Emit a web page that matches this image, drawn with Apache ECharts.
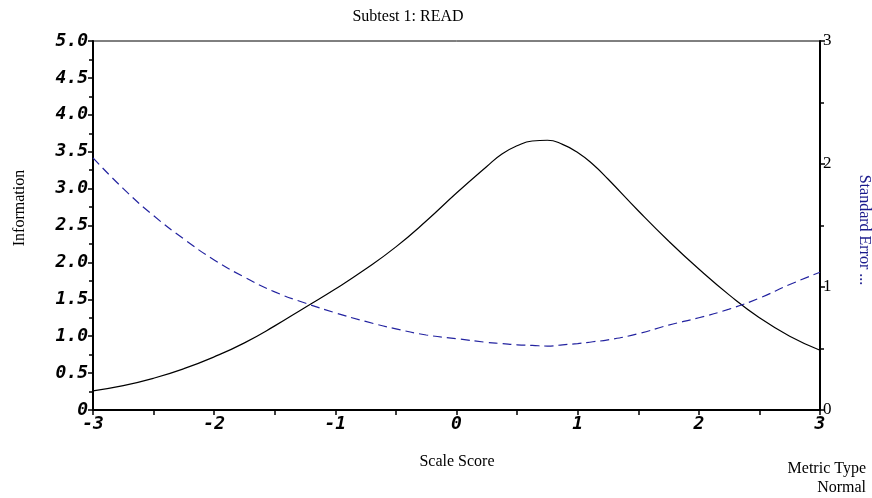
<!DOCTYPE html>
<html>
<head>
<meta charset="utf-8">
<script src="https://cdn.jsdelivr.net/npm/echarts@6/dist/echarts.min.js"></script>
<style>html,body{margin:0;padding:0;background:#fff}#c{width:872px;height:498px}</style>
</head>
<body>
<div id="c"></div>
<script>
const scaleScores = [-3.0,-2.75,-2.5,-2.25,-2.0,-1.75,-1.5,-1.25,-1.0,-0.75,-0.5,-0.25,0.0,0.25,0.375,0.5,0.625,0.75,0.875,1.0,1.125,1.25,1.5,1.75,2.0,2.25,2.5,2.75,3.0];
const information = [0.26,0.33,0.43,0.56,0.72,0.91,1.14,1.39,1.64,1.91,2.21,2.56,2.94,3.30,3.47,3.58,3.645,3.655,3.60,3.49,3.33,3.13,2.70,2.29,1.91,1.56,1.25,1.00,0.81];
const standardError = [2.05,1.80,1.58,1.39,1.22,1.08,0.96,0.87,0.79,0.72,0.66,0.61,0.58,0.55,0.54,0.53,0.525,0.52,0.53,0.54,0.555,0.57,0.62,0.69,0.75,0.82,0.91,1.02,1.12];
const titleText = 'Subtest 1: READ';
const xName = 'Scale Score';
const yLeftName = 'Information';
const yRightName = 'Standard Error ...';
const footLines = ['Metric Type','Normal'];

const monoLabel = {fontFamily:'DejaVu Sans Mono', fontWeight:'bold', fontStyle:'oblique', fontSize:18, color:'#000'};
const serif = 'Liberation Serif, Times New Roman, serif';

const chart = echarts.init(document.getElementById('c'), null, {renderer:'canvas'});
chart.setOption({
  animation:false,
  backgroundColor:'#fff',
  grid:{left:93, right:52, top:41, bottom:88, show:true, borderColor:'#000', borderWidth:1, backgroundColor:'transparent'},
  xAxis:{
    type:'value', min:-3, max:3, interval:1,
    axisLine:{show:true, onZero:false, lineStyle:{color:'#000', width:2}},
    axisTick:{show:true, length:5, lineStyle:{color:'#000', width:1.5}},
    minorTick:{show:true, splitNumber:2, length:5, lineStyle:{color:'#000', width:1.5}},
    splitLine:{show:false},
    axisLabel:Object.assign({margin:5}, monoLabel)
  },
  yAxis:[{
    type:'value', min:0, max:5, interval:0.5, position:'left',
    axisLine:{show:true, onZero:false, lineStyle:{color:'#000', width:2}},
    axisTick:{show:true, length:5, lineStyle:{color:'#000', width:1.5}},
    minorTick:{show:true, splitNumber:2, length:4, lineStyle:{color:'#000', width:1.5}},
    splitLine:{show:false},
    axisLabel:Object.assign({margin:5, formatter:v => v === 0 ? '0' : v.toFixed(1)}, monoLabel)
  },{
    type:'value', min:0, max:3, interval:1, position:'right',
    axisLine:{show:true, onZero:false, lineStyle:{color:'#000', width:2}},
    axisTick:{show:true, length:5, lineStyle:{color:'#000', width:1.5}},
    minorTick:{show:true, splitNumber:2, length:4, lineStyle:{color:'#000', width:1.5}},
    splitLine:{show:false},
    axisLabel:{margin:3, fontFamily:serif, fontSize:17, color:'#000'}
  }],
  series:[{
    type:'line', yAxisIndex:0, smooth:0.5, showSymbol:false,
    lineStyle:{color:'#000', width:1.2},
    data:scaleScores.map((x,i)=>[x, information[i]])
  },{
    type:'line', yAxisIndex:1, smooth:0.5, showSymbol:false,
    lineStyle:{color:'#2323a0', width:1.2, type:[9,5]},
    data:scaleScores.map((x,i)=>[x, standardError[i]])
  }],
  graphic:[
    {type:'text', x:408, y:17, style:{text:titleText, font:'16px '+serif, fill:'#000', textAlign:'center', textVerticalAlign:'middle'}},
    {type:'text', x:457, y:462, style:{text:xName, font:'16px '+serif, fill:'#000', textAlign:'center', textVerticalAlign:'middle'}},
    {type:'text', x:20, y:208, rotation:Math.PI/2, style:{text:yLeftName, font:'16px '+serif, fill:'#000', textAlign:'center', textVerticalAlign:'middle'}},
    {type:'text', x:864, y:230, rotation:-Math.PI/2, style:{text:yRightName, font:'16px '+serif, fill:'#1a1a8c', textAlign:'center', textVerticalAlign:'middle'}},
    {type:'text', x:866, y:469, style:{text:footLines[0], font:'16px '+serif, fill:'#000', textAlign:'right', textVerticalAlign:'middle'}},
    {type:'text', x:866, y:488, style:{text:footLines[1], font:'16px '+serif, fill:'#000', textAlign:'right', textVerticalAlign:'middle'}}
  ]
});
</script>
</body>
</html>
